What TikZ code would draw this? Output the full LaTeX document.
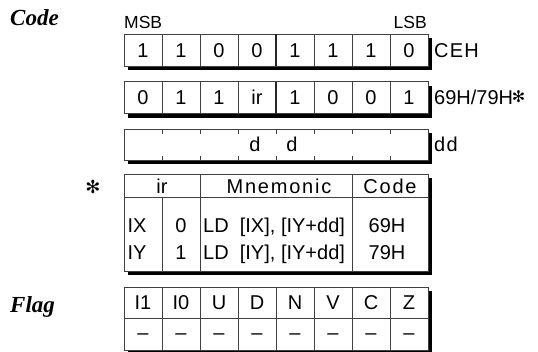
\documentclass[tikz,border=0pt]{standalone}
\usepackage{fontspec}
\setmainfont{Liberation Sans}
\newfontfamily\serifbi{Liberation Serif}
\newfontfamily\spaced[LetterSpace=9]{Liberation Sans}
\newfontfamily\spacedb[LetterSpace=6]{Liberation Sans}
\newfontfamily\symf{DejaVu Sans}
\begin{document}
\begin{tikzpicture}[x=1pt,y=-1pt,
  txt/.style={font=\fontsize{20}{22}\selectfont, inner sep=0pt, anchor=base},
  stxt/.style={font=\spaced\fontsize{20}{22}\selectfont, inner sep=0pt, anchor=base},
  btxt/.style={font=\spacedb\fontsize{20}{22}\selectfont, inner sep=0pt, anchor=base},
  smalltxt/.style={font=\fontsize{17.5}{19}\selectfont, inner sep=0pt},
  ttl/.style={font=\serifbi\bfseries\itshape\fontsize{23}{25}\selectfont, inner sep=0pt, anchor=base west},
  frame/.style={draw=black!75, line width=0.8pt},
  midline/.style={draw=black!85, line width=1.4pt},
  shadowfill/.style={fill=black}]
\useasboundingbox (0,0) rectangle (538,351);

% titles
\node[ttl] (tcode) at (10,25) {Code};
\node[ttl] (tflag) at (10,312) {Flag};
\node[smalltxt, anchor=base west] (msb) at (124,28) {MSB};
\node[smalltxt, anchor=base east] (lsb) at (427,28) {LSB};

% ---- box 1
\fill[shadowfill] (127.5,38) rectangle (432,70);
\filldraw[fill=white, frame] (124,34) rectangle (428,66);
\foreach \i in {1,2,3,5,6,7} \draw[frame] ({124+38*\i},34) -- ({124+38*\i},66);
\draw[midline] (276,34) -- (276,66);
\foreach \d [count=\i from 0] in {1,1,0,0,1,1,1,0}
  \node[txt] (a\i) at ({143+38*\i},57.2) {\d};
\node[btxt, anchor=base west] (ceh) at (434,57.2) {CEH};

% ---- box 2
\fill[shadowfill] (127.5,85.5) rectangle (432,117.5);
\filldraw[fill=white, frame] (124,81.5) rectangle (428,113.5);
\foreach \i in {1,2,3,5,6,7} \draw[frame] ({124+38*\i},81.5) -- ({124+38*\i},113.5);
\draw[midline] (276,81.5) -- (276,113.5);
\foreach \d [count=\i from 0] in {0,1,1,ir,1,0,0,1}
  \node[txt] (b\i) at ({143+38*\i},104.7) {\d};
\node[txt, anchor=base west] (code69) at (434,104.7) {69H/79H};
\node[inner sep=0pt, font=\symf\fontsize{16}{17}\selectfont] (star1) at (518.5,97) {✻};

% ---- box 3
\fill[shadowfill] (127.5,133) rectangle (432,164);
\filldraw[fill=white, frame] (124,129) rectangle (428,160);
\foreach \i in {1,...,7} {
  \draw[frame] ({124+38*\i},129) -- ({124+38*\i},133.5);
  \draw[frame] ({124+38*\i},155.5) -- ({124+38*\i},160);
}
\node[txt] (d1) at (255,151.7) {d};
\node[txt] (d2) at (292,151.7) {d};
\node[btxt, anchor=base west] (ddl) at (434,151.7) {dd};

% ---- mnemonic table
\node[inner sep=0pt, font=\symf\fontsize{18}{19}\selectfont] (star2) at (93,187) {✻};
\fill[shadowfill] (127.5,178) rectangle (432,275);
\filldraw[fill=white, frame] (124,174) rectangle (428,271);
\draw[frame] (124,197) -- (428,197);
\draw[frame] (162,197) -- (162,271);
\draw[frame] (200,174) -- (200,271);
\draw[frame] (352,174) -- (352,271);
\node[txt] (hir) at (162,193) {ir};
\node[stxt] (hmn) at (279,193) {Mnemonic};
\node[stxt] (hcode) at (390,193) {Code};
\node[txt] (rix) at (137,232) {IX};
\node[txt] (r0) at (181,232) {0};
\node[txt, anchor=base west] (m1) at (203,232) {LD\ \ [IX], [IY+dd]};
\node[txt] (c1) at (387,232) {69H};
\node[txt] (riy) at (137,259) {IY};
\node[txt] (r1) at (181,259) {1};
\node[txt, anchor=base west] (m2) at (203,259) {LD\ \ [IY], [IY+dd]};
\node[txt] (c2) at (387,259) {79H};

% ---- flag table
\fill[shadowfill] (127.5,291) rectangle (432,354);
\filldraw[fill=white, frame] (124,287) rectangle (428,350);
\draw[frame] (124,318) -- (428,318);
\foreach \i in {1,...,7} \draw[frame] ({124+38*\i},287) -- ({124+38*\i},350);
\foreach \f [count=\i from 0] in {I1,I0,U,D,N,V,C,Z} {
  \node[txt] (f\i) at ({143+38*\i},309.5) {\f};
  \node[txt] (g\i) at ({143+38*\i},339) {–};
}
\end{tikzpicture}
\end{document}
